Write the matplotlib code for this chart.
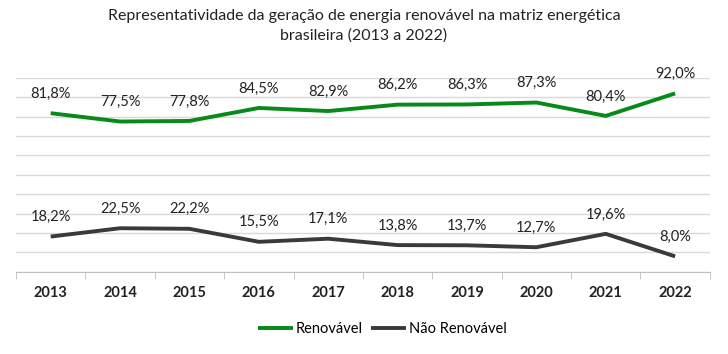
import numpy as np
import matplotlib.pyplot as plt

anos = ['2013', '2014', '2015', '2016', '2017', '2018', '2019', '2020', '2021', '2022']
renovavel = [81.8, 77.5, 77.8, 84.5, 82.9, 86.2, 86.3, 87.3, 80.4, 92.0]
nao_renovavel = [18.2, 22.5, 22.2, 15.5, 17.1, 13.8, 13.7, 12.7, 19.6, 8.0]

plt.rcParams['font.family'] = ['Lato', 'DejaVu Sans']

fig = plt.figure(figsize=(7.28, 3.54), dpi=100)
ax = fig.add_axes([0.022, 0.232, 0.953, 0.548])

x = np.arange(len(anos))
ax.plot(x, renovavel, color='#088A1A', lw=2.8, solid_capstyle='butt', label='Renovável')
ax.plot(x, nao_renovavel, color='#3A3A3A', lw=2.8, solid_capstyle='butt', label='Não Renovável')

for xi, v in zip(x, renovavel):
    ax.annotate(f'{v:.1f}%'.replace('.', ','), (xi, v), xytext=(0, 14), textcoords='offset points',
                ha='center', va='center', fontsize=10.5, color='#222222')
for xi, v in zip(x, nao_renovavel):
    ax.annotate(f'{v:.1f}%'.replace('.', ','), (xi, v), xytext=(0, 14), textcoords='offset points',
                ha='center', va='center', fontsize=10.5, color='#222222')

ax.set_xlim(-0.5, len(anos) - 0.5)
ax.set_ylim(0, 100)
ax.set_yticks(np.arange(0, 101, 10))
ax.set_yticklabels([])
ax.tick_params(axis='y', length=0)
ax.grid(axis='y', color='#D9D9D9', lw=1)
ax.set_axisbelow(True)

ax.set_xticks(x)
ax.set_xticklabels(anos, fontsize=10.5, fontweight='bold', color='#222222')
ax.set_xticks(np.arange(-0.5, len(anos)), minor=True)
ax.tick_params(axis='x', which='major', length=0, pad=10)
ax.tick_params(axis='x', which='minor', length=5, color='#BFBFBF')

for s in ['top', 'right', 'left']:
    ax.spines[s].set_visible(False)
ax.spines['bottom'].set_color('#BFBFBF')

fig.suptitle('Representatividade da geração de energia renovável na matriz energética\nbrasileira (2013 a 2022)',
             x=0.5, y=0.975, fontsize=11.5, color='#222222', linespacing=1.45)

fig.legend(loc='center', bbox_to_anchor=(0.525, 0.07), ncol=2, frameon=False, fontsize=10.5,
           handlelength=2.4, handletextpad=0.2, columnspacing=0.6)

fig.savefig('out.png', dpi=100)
